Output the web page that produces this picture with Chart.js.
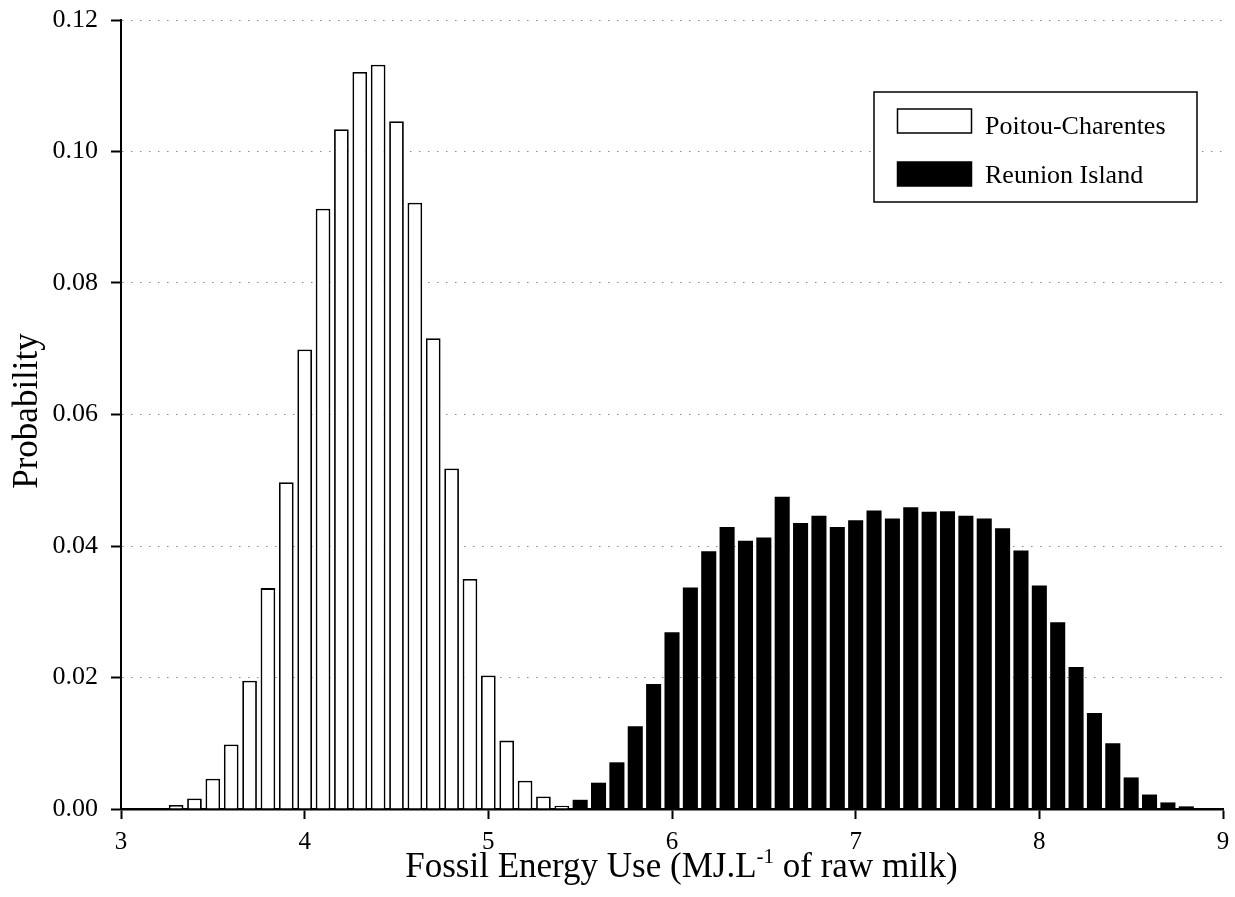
<!DOCTYPE html>
<html><head><meta charset="utf-8">
<script src="https://cdn.jsdelivr.net/npm/chart.js@4"></script>
<style>html,body{margin:0;padding:0;background:#fff}#wrap{width:1235px;height:897px}</style>
</head><body><div id="wrap"><canvas id="c" width="1235" height="897"></canvas></div>
<script>
const poitouBins = [3.3,3.4,3.5,3.6,3.7,3.8,3.9,4.0,4.1,4.2,4.3,4.4,4.5,4.6,4.7,4.8,4.9,5.0,5.1,5.2,5.3,5.4];
const poitouProb = [0.0006,0.0016,0.0046,0.0098,0.0195,0.0336,0.0497,0.0699,0.0913,0.1034,0.1121,0.1132,0.1046,0.0922,0.0716,0.0518,0.0350,0.0203,0.0104,0.0043,0.0019,0.0005];
const reunionBins = [5.5,5.6,5.7,5.8,5.9,6.0,6.1,6.2,6.3,6.4,6.5,6.6,6.7,6.8,6.9,7.0,7.1,7.2,7.3,7.4,7.5,7.6,7.7,7.8,7.9,8.0,8.1,8.2,8.3,8.4,8.5,8.6,8.7,8.8,8.9];
const reunionProb = [0.0014,0.0040,0.0071,0.0126,0.0190,0.0269,0.0337,0.0392,0.0429,0.0408,0.0413,0.0475,0.0435,0.0446,0.0429,0.0439,0.0454,0.0442,0.0459,0.0452,0.0453,0.0446,0.0442,0.0427,0.0393,0.0340,0.0284,0.0216,0.0146,0.0100,0.0048,0.0022,0.0010,0.0004,0.0001];
const seriesNames = ['Poitou-Charentes','Reunion Island'];
const xTicks = [3,4,5,6,7,8,9];
const yTicks = [0,0.02,0.04,0.06,0.08,0.10,0.12];
const yTitle = 'Probability';
const xTitleParts = ['Fossil Energy Use (MJ.L', '-1', ' of raw milk)'];

const SERIF = "'Liberation Serif', 'Times New Roman', serif";

const overlay = {
  id: 'overlay',
  afterDraw(chart) {
    const ctx = chart.ctx;
    ctx.save();
    ctx.fillStyle = '#000';
    // y title
    ctx.save();
    ctx.translate(37, 411);
    ctx.rotate(-Math.PI / 2);
    ctx.font = '35px ' + SERIF;
    ctx.textAlign = 'center';
    ctx.textBaseline = 'alphabetic';
    ctx.fillText(yTitle, 0, 0);
    ctx.restore();
    // x title with superscript
    const big = '35px ' + SERIF, small = '21px ' + SERIF;
    ctx.font = big; const w1 = ctx.measureText(xTitleParts[0]).width;
    const w3 = ctx.measureText(xTitleParts[2]).width;
    ctx.font = small; const w2 = ctx.measureText(xTitleParts[1]).width;
    const total = w1 + w2 + w3;
    let x = 681.5 - total / 2;
    const base = 877;
    ctx.textAlign = 'left'; ctx.textBaseline = 'alphabetic';
    ctx.font = big; ctx.fillText(xTitleParts[0], x, base); x += w1;
    ctx.font = small; ctx.fillText(xTitleParts[1], x, base - 14); x += w2;
    ctx.font = big; ctx.fillText(xTitleParts[2], x, base);
    // legend
    const lx = 874, ly = 92, lw = 323, lh = 110;
    ctx.fillStyle = '#fff';
    ctx.fillRect(lx, ly, lw, lh);
    ctx.strokeStyle = '#000'; ctx.lineWidth = 1.5;
    ctx.strokeRect(lx, ly, lw, lh);
    const ds = chart.data.datasets;
    const rows = [{y: 109, h: 24, tb: 134}, {y: 162, h: 24, tb: 183}];
    rows.forEach((r, i) => {
      ctx.fillStyle = ds[i].backgroundColor;
      ctx.fillRect(897.5, r.y, 74, r.h);
      ctx.strokeStyle = '#000'; ctx.lineWidth = 1.5;
      ctx.strokeRect(897.5, r.y, 74, r.h);
      ctx.fillStyle = '#000';
      ctx.font = '26px ' + SERIF;
      ctx.textAlign = 'left'; ctx.textBaseline = 'alphabetic';
      ctx.fillText(ds[i].label, 985, r.tb);
    });
    ctx.restore();
  }
};

new Chart(document.getElementById('c'), {
  type: 'bar',
  data: {
    datasets: [
      {
        label: seriesNames[0],
        data: poitouBins.map((b, i) => ({x: b, y: poitouProb[i]})),
        backgroundColor: '#ffffff', borderColor: '#000000', borderWidth: 1.8,
        grouped: false, barPercentage: 0.8, categoryPercentage: 1, order: 1
      },
      {
        label: seriesNames[1],
        data: reunionBins.map((b, i) => ({x: b, y: reunionProb[i]})),
        backgroundColor: '#000000', borderColor: '#000000', borderWidth: 0,
        grouped: false, barPercentage: 0.82, categoryPercentage: 1, order: 2
      }
    ]
  },
  options: {
    responsive: false, animation: false, devicePixelRatio: 1,
    layout: {padding: {top: 20, right: 12, left: 0, bottom: 0}},
    plugins: {legend: {display: false}, tooltip: {enabled: false}},
    scales: {
      x: {
        type: 'linear', min: 3, max: 9, offset: false,
        afterBuildTicks: s => { s.ticks = xTicks.map(v => ({value: v})); },
        ticks: {font: {family: SERIF, size: 25}, color: '#000', padding: 8, maxRotation: 0, autoSkip: false,
                callback: v => String(v)},
        grid: {offset: false, drawOnChartArea: false, drawTicks: true, tickLength: 10, tickColor: '#000', tickWidth: 2},
        border: {color: '#000', width: 2.5},
        afterFit: s => { s.height = 88; s.paddingLeft = 0; s.paddingRight = 0; }
      },
      y: {
        min: 0, max: 0.12,
        afterBuildTicks: s => { s.ticks = yTicks.map(v => ({value: v})); },
        ticks: {font: {family: SERIF, size: 26}, color: '#000', padding: 13, autoSkip: false,
                callback: v => Number(v).toFixed(2)},
        grid: {color: '#8a8a8a', lineWidth: 1, tickLength: 10, tickColor: '#000', tickWidth: 2},
        border: {color: '#000', width: 2, dash: [1.5, 7.5]},
        afterFit: s => { s.width = 121; s.paddingTop = 0; s.paddingBottom = 0; }
      }
    }
  },
  plugins: [overlay]
});
</script>
</body></html>
